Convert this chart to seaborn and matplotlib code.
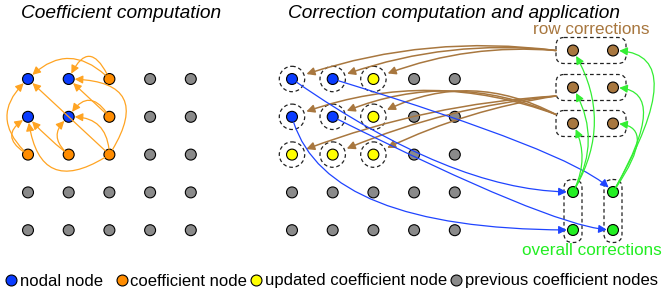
import matplotlib
matplotlib.use("Agg")
import matplotlib.pyplot as plt
import seaborn as sns
import pandas as pd
from matplotlib.patches import Circle, FancyBboxPatch

# ---------------- data ----------------
NODE_TYPES = ["nodal node", "coefficient node", "updated coefficient node",
              "previous coefficient nodes"]
TYPE_CODES = {"N": NODE_TYPES[0], "C": NODE_TYPES[1], "U": NODE_TYPES[2], "P": NODE_TYPES[3]}
LEGEND_LABELS = ["nodal node  ", "coefficient node", "updated coefficient node",
                 "previous coefficient nodes"]

left_grid = ["NNCPP", "NNCPP", "CCCPP", "PPPPP", "PPPPP"]
right_grid = ["NNUPP", "NNUPP", "UUUPP", "PPPPP", "PPPPP"]
circled_rows = [0, 1, 2]
circled_cols = [0, 1, 2]

row_corr_rows = [0, 1, 2]
corr_cols = [0, 1]
overall_rows = [0, 1]

# left panel arrows: (from (row, col), to (row, col), curvature)
left_arrows = [
    ((0, 2), (0, 0), 0.5), ((0, 2), (0, 1), 1.1),
    ((1, 2), (0, 1), 0.0), ((2, 2), (0, 1), 0.9),
    ((1, 2), (1, 1), 0.8), ((2, 2), (1, 1), 0.5),
    ((2, 2), (0, 0), 0.0), ((2, 2), (1, 0), -0.8),
    ((2, 0), (0, 0), -0.55), ((2, 0), (1, 0), -0.85),
    ((2, 1), (1, 0), -0.05), ((2, 1), (1, 1), -0.6),
]
# row-correction box -> grid row it updates, curvature per target column
brown_box_targets = [0, 2, 1]
brown_rads = [[0.12, 0.12, 0.12], [0.08, 0.08, 0.08], [0.19, 0.22, 0.27]]
# blue: nodal node (row, col) -> overall correction (row, col), start angle, end angle
blue_arrows = [((0, 0), (0, 0), -35, 0), ((0, 1), (0, 1), -17, -50),
               ((1, 0), (1, 0), -75, 0), ((1, 1), (1, 1), -26.6, 0)]
# green: overall correction column -> row corrections, style
green_left = [0.3, 0.29, 0.26]
green_right_angle = [60, 60, 55]

# ---------------- style / layout ----------------
C_BLUE, C_ORANGE, C_YELLOW, C_GRAY = "#0a3cff", "#ff8c00", "#ffff00", "#8a8a8a"
C_BROWN, C_GREEN = "#a8773f", "#22ee22"
LINE_ORANGE, LINE_BLUE, LINE_BROWN, LINE_GREEN = "#ffa422", "#1f44ff", "#a8773f", "#33ee33"
palette = dict(zip(NODE_TYPES, [C_BLUE, C_ORANGE, C_YELLOW, C_GRAY]))

DX, DY = 40.7, 37.8
LEFT_X0, RIGHT_X0, GRID_Y0 = 28, 292, 79
CORR_X = [573, 613]
ROWCORR_Y = [50.5, 87.5, 123.5]
OVERALL_Y = [192, 230]
BOX_ANCHOR_DY = [0, 8.5, -9]

W, H = 665, 297
plt.rcParams["font.family"] = ["Liberation Sans", "DejaVu Sans"]
fig = plt.figure(figsize=(W / 100, H / 100), dpi=100)
ax = fig.add_axes([0, 0, 1, 1])


def gpos(x0, r, c):
    return (x0 + DX * c, GRID_Y0 + DY * r)


rows = []
for panel, x0, grid in [("left", LEFT_X0, left_grid), ("right", RIGHT_X0, right_grid)]:
    for r, line in enumerate(grid):
        for c, code in enumerate(line):
            x, y = gpos(x0, r, c)
            rows.append({"x": x, "y": y, "kind": TYPE_CODES[code]})
nodes = pd.DataFrame(rows)

corr_rows = []
for r in row_corr_rows:
    for c in corr_cols:
        corr_rows.append({"x": CORR_X[c], "y": ROWCORR_Y[r], "kind": "row"})
for r in overall_rows:
    for c in corr_cols:
        corr_rows.append({"x": CORR_X[c], "y": OVERALL_Y[r], "kind": "overall"})
corr = pd.DataFrame(corr_rows)

NODE_S = 62
sns.scatterplot(data=nodes, x="x", y="y", hue="kind", hue_order=NODE_TYPES,
                palette=palette, s=NODE_S, edgecolor="black", linewidth=0.8,
                ax=ax, zorder=4)
sns.scatterplot(data=corr, x="x", y="y", hue="kind",
                palette={"row": C_BROWN, "overall": C_GREEN}, s=NODE_S,
                edgecolor="black", linewidth=0.8, ax=ax, zorder=4, legend=False)

DASH = (0, (3, 2.2))
# dashed rings
for r in circled_rows:
    for c in circled_cols:
        ax.add_patch(Circle(gpos(RIGHT_X0, r, c), 12.7, fill=False, ec="#222222",
                            lw=0.9, ls=DASH, zorder=3))
# rounded dashed boxes
for r in row_corr_rows:
    ax.add_patch(FancyBboxPatch((CORR_X[0] - 9, ROWCORR_Y[r] - 5), CORR_X[1] - CORR_X[0] + 14, 10,
                                boxstyle="round,pad=8", fill=False, ec="#222222",
                                lw=0.9, ls=DASH, zorder=3))
for c in corr_cols:
    ax.add_patch(FancyBboxPatch((CORR_X[c] - 0.5, OVERALL_Y[0] - 4), 1, OVERALL_Y[1] - OVERALL_Y[0] + 8,
                                boxstyle="round,pad=8.5", fill=False, ec="#222222",
                                lw=0.9, ls=DASH, zorder=3))


def arrow(p0, p1, color, cs, sa, sb, lw=0.9, ms=12):
    ax.annotate("", xy=p1, xytext=p0, zorder=5,
                arrowprops=dict(arrowstyle="-|>", connectionstyle=cs, color=color,
                                lw=lw, shrinkA=sa, shrinkB=sb, mutation_scale=ms))


# left panel
for (r0, c0), (r1, c1), rad in left_arrows:
    arrow(gpos(LEFT_X0, r0, c0), gpos(LEFT_X0, r1, c1), LINE_ORANGE,
          f"arc3,rad={rad}", 4, 4.3)

# brown row corrections
for b, tr in enumerate(brown_box_targets):
    start = (CORR_X[0] - 17, ROWCORR_Y[b] + BOX_ANCHOR_DY[b])
    for c in range(3):
        arrow(start, gpos(RIGHT_X0, tr, c), LINE_BROWN,
              f"arc3,rad={brown_rads[b][c]}", 0, 11, lw=1.1)

# blue
for (r0, c0), (r1, c1), aA, aB in blue_arrows:
    arrow(gpos(RIGHT_X0, r0, c0), (CORR_X[c1], OVERALL_Y[r1]), LINE_BLUE,
          f"angle3,angleA={aA},angleB={aB}", 4, 4.5)

# green
for r in row_corr_rows:
    arrow((CORR_X[0], OVERALL_Y[0]), (CORR_X[0], ROWCORR_Y[r]), LINE_GREEN,
          f"arc3,rad={green_left[r]}", 4, 4.5)
    arrow((CORR_X[1], OVERALL_Y[0]), (CORR_X[1], ROWCORR_Y[r]), LINE_GREEN,
          f"angle3,angleA={green_right_angle[r]},angleB=0", 4, 4.5)

# texts
ax.text(121, 18.3, "Coefficient computation", ha="center", va="baseline",
        style="italic", fontsize=13.8)
ax.text(454, 18.3, "Correction computation and application", ha="center",
        va="baseline", style="italic", fontsize=13.8)
ax.text(591, 33.5, "row corrections", ha="center", va="baseline", color=C_BROWN,
        fontsize=12.3)
ax.text(591.5, 255, "overall corrections", ha="center", va="baseline",
        color=C_GREEN, fontsize=12.3)

ax.set_xlim(0, W)
ax.set_ylim(H, 0)
ax.set_axis_off()

handles, labels = ax.get_legend_handles_labels()
ax.legend(handles, LEGEND_LABELS, loc="center left",
          bbox_to_anchor=(4.8 / W, (H - 281) / H), ncol=4, frameon=False,
          borderpad=0, borderaxespad=0, handlelength=0.8, handletextpad=0.12,
          columnspacing=0.15, fontsize=12)

fig.savefig("out.png", dpi=100)
